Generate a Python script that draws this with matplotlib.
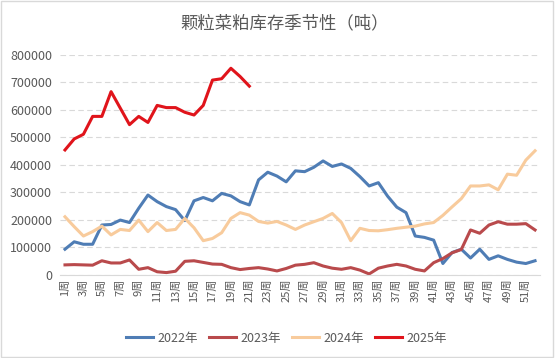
import numpy as np
import matplotlib
matplotlib.use('Agg')
import matplotlib.pyplot as plt
from matplotlib.patches import Rectangle

plt.rcParams['font.family'] = ['Noto Sans CJK SC', 'DejaVu Sans']

weeks = [f'{i}周' for i in range(1, 53)]

y2022 = [92000, 119000, 110000, 110000, 180000, 182000, 198000, 189000, 241000, 289000,
         265000, 247000, 236000, 196000, 268000, 280000, 268000, 295000, 286000, 265000,
         253000, 344000, 372000, 358000, 337000, 377000, 374000, 390000, 413000, 393000,
         402000, 386000, 356000, 322000, 334000, 285000, 245000, 225000, 140000, 135000,
         125000, 40000, 80000, 92000, 60000, 92000, 55000, 68000, 55000, 45000,
         40000, 50000]
y2023 = [35000, 36000, 35000, 34000, 50000, 42000, 42000, 53000, 19000, 25000,
         10000, 7000, 12000, 48000, 50000, 44000, 38000, 37000, 25000, 18000,
         22000, 25000, 20000, 13000, 22000, 34000, 37000, 43000, 31000, 23000,
         19000, 25000, 16000, 2000, 23000, 31000, 37000, 31000, 19000, 13000,
         43000, 58000, 79000, 91000, 162000, 150000, 180000, 192000, 183000, 183000,
         185000, 162000]
y2024 = [210000, 174000, 140000, 156000, 176000, 144000, 164000, 160000, 198000, 156000,
         189000, 160000, 164000, 204000, 170000, 123000, 131000, 152000, 204000, 225000,
         216000, 193000, 187000, 193000, 180000, 164000, 180000, 192000, 204000, 222000,
         189000, 123000, 168000, 160000, 159000, 163000, 168000, 172000, 176000, 184000,
         189000, 215000, 246000, 276000, 322000, 322000, 326000, 308000, 365000, 361000,
         416000, 450000]
y2025 = [453000, 493000, 510000, 575000, 575000, 665000, 605000, 545000, 575000, 553000,
         615000, 607000, 607000, 590000, 580000, 615000, 707000, 712000, 750000, 720000,
         685000]

series = [('2022年', y2022, '#4F7DB5'),
          ('2023年', y2023, '#B94A4C'),
          ('2024年', y2024, '#F8CB9C'),
          ('2025年', y2025, '#E0141B')]

fig = plt.figure(figsize=(5.56, 3.58), dpi=100)
ax = fig.add_axes([0.1086, 0.2332, 0.862, 0.6145])

x = np.arange(len(weeks))
for name, vals, col in series:
    ax.plot(x[:len(vals)], vals, color=col, lw=2.2, label=name, solid_joinstyle='round')

ax.set_xlim(-0.5, len(weeks) - 0.5)
ax.set_ylim(0, 800000)
ax.set_yticks(range(0, 800001, 100000))
ax.set_xticks(x[::2])
ax.set_xticklabels(weeks[::2], rotation=90, fontsize=8, color='#595959')
ax.tick_params(axis='y', labelsize=9, colors='#595959', length=0, pad=6)
ax.tick_params(axis='x', length=0, pad=3)
ax.yaxis.grid(True, color='#D9D9D9', ls=(0, (5, 3)), lw=0.8)
for s in ['top', 'right', 'left']:
    ax.spines[s].set_visible(False)
ax.spines['bottom'].set_color('#D9D9D9')
ax.set_axisbelow(True)

fig.text(0.511, 0.936, '颗粒菜粕库存季节性（吨）', ha='center', va='center',
         fontsize=12.5, color='#595959')
fig.legend(loc='center', bbox_to_anchor=(0.515, 0.055), ncol=4, frameon=False,
           fontsize=9, handlelength=2.2, handletextpad=0.3, columnspacing=0.9,
           labelcolor='#595959')

fig.add_artist(Rectangle((0.002, 0.004), 0.992, 0.992, transform=fig.transFigure,
                         fill=False, ec='#D9D9D9', lw=1))

fig.savefig('out.png', dpi=100)
